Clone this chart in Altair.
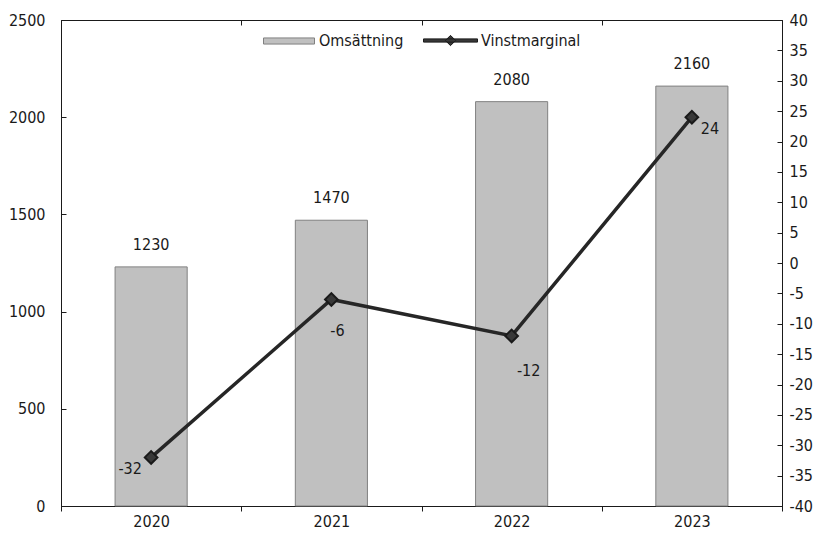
import altair as alt
import pandas as pd

# ---- data ----
years = ["2020", "2021", "2022", "2023"]
revenue = [1230, 1470, 2080, 2160]          # Omsättning
margin = [-32, -6, -12, 24]                 # Vinstmarginal
left_ticks = [0, 500, 1000, 1500, 2000, 2500]
right_ticks = [-40, -35, -30, -25, -20, -15, -10, -5, 0, 5, 10, 15, 20, 25, 30, 35, 40]
bar_name = "Omsättning"
line_name = "Vinstmarginal"

df = pd.DataFrame({"year": years, "revenue": revenue, "margin": margin,
                   "s1": bar_name, "s2": line_name})

# ---- style ----
FONT = "DejaVu Sans Condensed"
FS = 16
INK = "#1a1a1a"
BAR_FILL = "#c0c0c0"
BAR_STROKE = "#808080"
LINE = "#262626"
# label offsets for margin labels (per year), styling only
margin_offsets = {"2020": (-21, 12), "2021": (6, 32), "2022": (17, 35), "2023": (18, 12)}

x_enc = alt.X("year:N", sort=years,
              scale=alt.Scale(paddingInner=0, paddingOuter=0),
              axis=alt.Axis(title=None, labelAngle=0, tickBand="extent",
                            ticks=True, tickSize=5, tickColor=INK,
                            labelPadding=2, domainColor=INK,
                            labelFont=FONT, labelFontSize=FS, labelColor=INK,
                            grid=True, gridDash=[5, 3000], gridColor=INK,
                            gridOpacity=1))

y_left = alt.Y("revenue:Q",
               scale=alt.Scale(domain=[0, 2500], nice=False, zero=True),
               axis=alt.Axis(orient="left", values=left_ticks, title=None,
                             labelExpr="datum.value + ''", labelOverlap=False,
                             ticks=False, labelPadding=16, domainColor=INK,
                             labelFont=FONT, labelFontSize=FS, labelColor=INK,
                             grid=True, gridDash=[5, 3000], gridColor=INK,
                             gridOpacity=1))

y_right = alt.Y("margin:Q",
                scale=alt.Scale(domain=[-40, 40], nice=False, zero=False),
                axis=alt.Axis(orient="right", values=right_ticks, title=None,
                              labelExpr="datum.value + ''", labelOverlap=False,
                              ticks=False, labelPadding=7, domainColor=INK,
                              labelFont=FONT, labelFontSize=FS, labelColor=INK,
                              grid=True, gridDash=[5, 3000], gridColor=INK,
                              gridOpacity=1))

bars = alt.Chart(df).mark_bar(
    width=alt.RelativeBandSize(0.4), stroke=BAR_STROKE, strokeWidth=1
).encode(
    x=x_enc,
    y=y_left,
    fill=alt.Fill("s1:N", scale=alt.Scale(domain=[bar_name], range=[BAR_FILL]),
                  legend=alt.Legend(title=None, orient="none", legendX=202, legendY=-5,
                                    direction="horizontal", padding=0,
                                    symbolType="M-1,-0.12H1V0.12H-1Z", symbolSize=2601,
                                    symbolStrokeColor=BAR_STROKE, symbolStrokeWidth=1,
                                    labelFont=FONT, labelFontSize=FS, labelColor=INK,
                                    labelOffset=4)),
)

bar_labels = alt.Chart(df).transform_calculate(
    rlabel="toString(datum.revenue)"
).mark_text(
    dy=-22, baseline="middle", align="center", font=FONT, fontSize=FS, color=INK
).encode(x=x_enc, y=y_left, text=alt.Text("rlabel:N"))

left = alt.layer(bars, bar_labels)

line = alt.Chart(df).mark_line(color=LINE, strokeWidth=3.5).encode(
    x=x_enc, y=y_right
)

points = alt.Chart(df).mark_point(
    shape="diamond", filled=True, size=160, stroke=INK, strokeWidth=2, opacity=1
).encode(
    x=x_enc,
    y=y_right,
    color=alt.Color("s2:N", scale=alt.Scale(domain=[line_name], range=["#383838"]),
                    legend=alt.Legend(title=None, orient="none", legendX=362, legendY=-7,
                                      direction="horizontal", padding=0,
                                      symbolType="M-1,-0.06H1V0.06H-1Z M0,-0.19L0.19,0L0,0.19L-0.19,0Z",
                                      symbolSize=2916,
                                      symbolStrokeColor=INK, symbolStrokeWidth=1,
                                      symbolFillColor=LINE,
                                      labelFont=FONT, labelFontSize=FS, labelColor=INK,
                                      labelOffset=3)),
)

label_layers = []
for yr, (ddx, ddy) in margin_offsets.items():
    label_layers.append(
        alt.Chart(df).transform_filter(alt.datum.year == yr).transform_calculate(
            mlabel="toString(datum.margin)"
        ).mark_text(
            dx=ddx, dy=ddy, baseline="middle", align="center",
            font=FONT, fontSize=FS, color=INK
        ).encode(x=x_enc, y=y_right, text=alt.Text("mlabel:N"))
    )

right = alt.layer(line, points, *label_layers)

chart = alt.layer(left, right).resolve_scale(
    y="independent", fill="independent", color="independent"
).resolve_legend(fill="independent", color="independent").properties(
    width=721, height=486,
    padding={"left": 0, "top": 4, "right": 0, "bottom": 0},
    background="white",
).configure_view(
    stroke=INK, strokeWidth=1
).configure_axis(
    labelFont=FONT, labelFontSize=FS, labelColor=INK
)

chart.save("out.html", embed_options={"renderer": "svg", "actions": False})
